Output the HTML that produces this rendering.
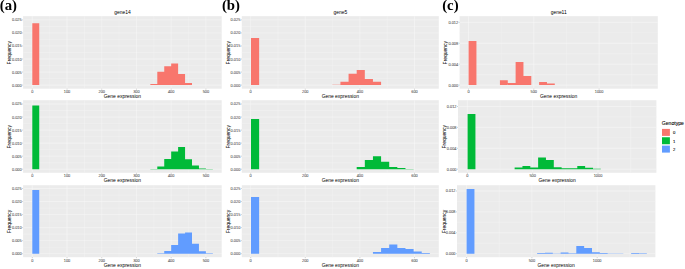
<!DOCTYPE html>
<html><head><meta charset="utf-8"><title>Gene expression histograms</title>
<style>html,body{margin:0;padding:0;background:#fff;}body{width:685px;height:269px;overflow:hidden;font-family:"Liberation Sans",sans-serif;}svg{display:block;}text{font-family:"Liberation Sans",sans-serif;}text.pl{font-family:"Liberation Serif",serif;font-weight:bold;}</style>
</head><body>
<svg width="685" height="269" viewBox="0 0 685 269">
<rect x="0" y="0" width="685" height="269" fill="#fff"/>
<rect x="23.1" y="16.15" width="198.6" height="72.55" fill="#EBEBEB"/>
<path d="M49.66 16.15V88.7M84.38 16.15V88.7M119.1 16.15V88.7M153.82 16.15V88.7M188.54 16.15V88.7M23.1 78.58H221.7M23.1 65.54H221.7M23.1 52.5H221.7M23.1 39.46H221.7M23.1 26.42H221.7" stroke="#F5F5F5" stroke-width="0.4" fill="none"/>
<path d="M32.3 16.15V88.7M67.02 16.15V88.7M101.74 16.15V88.7M136.46 16.15V88.7M171.18 16.15V88.7M205.9 16.15V88.7M23.1 85.1H221.7M23.1 72.06H221.7M23.1 59.02H221.7M23.1 45.98H221.7M23.1 32.94H221.7M23.1 19.9H221.7" stroke="#F8F8F8" stroke-width="0.5" fill="none"/>
<path d="M32.3 85.1H39.24V23.3H32.3ZM150.35 85.1H157.29V84H150.35ZM157.29 85.1H164.24V71.8H157.29ZM164.24 85.1H171.18V66.3H164.24ZM171.18 85.1H178.12V63.4H171.18ZM178.12 85.1H185.07V73.9H178.12ZM185.07 85.1H192.01V82.9H185.07Z" fill="#F8766D"/>
<path d="M32.3 88.7V89.7M67.02 88.7V89.7M101.74 88.7V89.7M136.46 88.7V89.7M171.18 88.7V89.7M205.9 88.7V89.7M22.1 85.1H23.1M22.1 72.06H23.1M22.1 59.02H23.1M22.1 45.98H23.1M22.1 32.94H23.1M22.1 19.9H23.1" stroke="#777" stroke-width="0.35" fill="none"/>
<rect x="23.1" y="100.2" width="198.6" height="72.6" fill="#EBEBEB"/>
<path d="M49.66 100.2V172.8M84.38 100.2V172.8M119.1 100.2V172.8M153.82 100.2V172.8M188.54 100.2V172.8M23.1 162.68H221.7M23.1 149.64H221.7M23.1 136.6H221.7M23.1 123.56H221.7M23.1 110.52H221.7" stroke="#F5F5F5" stroke-width="0.4" fill="none"/>
<path d="M32.3 100.2V172.8M67.02 100.2V172.8M101.74 100.2V172.8M136.46 100.2V172.8M171.18 100.2V172.8M205.9 100.2V172.8M23.1 169.2H221.7M23.1 156.16H221.7M23.1 143.12H221.7M23.1 130.08H221.7M23.1 117.04H221.7M23.1 104H221.7" stroke="#F8F8F8" stroke-width="0.5" fill="none"/>
<path d="M32.3 169.2H39.24V105.4H32.3ZM150.35 169.2H157.29V168.9H150.35ZM157.29 169.2H164.24V166.5H157.29ZM164.24 169.2H171.18V158.9H164.24ZM171.18 169.2H178.12V151.4H171.18ZM178.12 169.2H185.07V147H178.12ZM185.07 169.2H192.01V159.3H185.07ZM192.01 169.2H198.96V165.5H192.01ZM198.96 169.2H205.9V168.5H198.96ZM205.9 169.2H212.84V168.9H205.9Z" fill="#00BA38"/>
<path d="M32.3 172.8V173.8M67.02 172.8V173.8M101.74 172.8V173.8M136.46 172.8V173.8M171.18 172.8V173.8M205.9 172.8V173.8M22.1 169.2H23.1M22.1 156.16H23.1M22.1 143.12H23.1M22.1 130.08H23.1M22.1 117.04H23.1M22.1 104H23.1" stroke="#777" stroke-width="0.35" fill="none"/>
<rect x="23.1" y="185.2" width="198.6" height="72" fill="#EBEBEB"/>
<path d="M49.66 185.2V257.2M84.38 185.2V257.2M119.1 185.2V257.2M153.82 185.2V257.2M188.54 185.2V257.2M23.1 247.18H221.7M23.1 234.14H221.7M23.1 221.1H221.7M23.1 208.06H221.7M23.1 195.02H221.7" stroke="#F5F5F5" stroke-width="0.4" fill="none"/>
<path d="M32.3 185.2V257.2M67.02 185.2V257.2M101.74 185.2V257.2M136.46 185.2V257.2M171.18 185.2V257.2M205.9 185.2V257.2M23.1 253.7H221.7M23.1 240.66H221.7M23.1 227.62H221.7M23.1 214.58H221.7M23.1 201.54H221.7M23.1 188.5H221.7" stroke="#F8F8F8" stroke-width="0.5" fill="none"/>
<path d="M32.3 253.7H39.24V189.9H32.3ZM157.29 253.7H164.24V253.3H157.29ZM164.24 253.7H171.18V250.9H164.24ZM171.18 253.7H178.12V244.9H171.18ZM178.12 253.7H185.07V233.5H178.12ZM185.07 253.7H192.01V232.4H185.07ZM192.01 253.7H198.96V243.7H192.01ZM198.96 253.7H205.9V251.3H198.96ZM205.9 253.7H212.84V253.3H205.9Z" fill="#619CFF"/>
<path d="M32.3 257.2V258.2M67.02 257.2V258.2M101.74 257.2V258.2M136.46 257.2V258.2M171.18 257.2V258.2M205.9 257.2V258.2M22.1 253.7H23.1M22.1 240.66H23.1M22.1 227.62H23.1M22.1 214.58H23.1M22.1 201.54H23.1M22.1 188.5H23.1" stroke="#777" stroke-width="0.35" fill="none"/>
<rect x="241.8" y="16.15" width="197" height="72.55" fill="#EBEBEB"/>
<path d="M278 16.15V88.7M332.6 16.15V88.7M387.2 16.15V88.7M241.8 78.58H438.8M241.8 65.54H438.8M241.8 52.5H438.8M241.8 39.46H438.8M241.8 26.42H438.8" stroke="#F5F5F5" stroke-width="0.4" fill="none"/>
<path d="M250.7 16.15V88.7M305.3 16.15V88.7M359.9 16.15V88.7M414.5 16.15V88.7M241.8 85.1H438.8M241.8 72.06H438.8M241.8 59.02H438.8M241.8 45.98H438.8M241.8 32.94H438.8M241.8 19.9H438.8" stroke="#F8F8F8" stroke-width="0.5" fill="none"/>
<path d="M251 85.1H259.13V38.05H251ZM332.3 85.1H340.43V84.8H332.3ZM340.43 85.1H348.56V81.75H340.43ZM348.56 85.1H356.69V73.85H348.56ZM356.69 85.1H364.82V70H356.69ZM364.82 85.1H372.95V79.05H364.82ZM372.95 85.1H381.08V81.75H372.95Z" fill="#F8766D"/>
<path d="M250.7 88.7V89.7M305.3 88.7V89.7M359.9 88.7V89.7M414.5 88.7V89.7M240.8 85.1H241.8M240.8 72.06H241.8M240.8 59.02H241.8M240.8 45.98H241.8M240.8 32.94H241.8M240.8 19.9H241.8" stroke="#777" stroke-width="0.35" fill="none"/>
<rect x="241.8" y="100.2" width="197" height="72.6" fill="#EBEBEB"/>
<path d="M278 100.2V172.8M332.6 100.2V172.8M387.2 100.2V172.8M241.8 162.68H438.8M241.8 149.64H438.8M241.8 136.6H438.8M241.8 123.56H438.8M241.8 110.52H438.8" stroke="#F5F5F5" stroke-width="0.4" fill="none"/>
<path d="M250.7 100.2V172.8M305.3 100.2V172.8M359.9 100.2V172.8M414.5 100.2V172.8M241.8 169.2H438.8M241.8 156.16H438.8M241.8 143.12H438.8M241.8 130.08H438.8M241.8 117.04H438.8M241.8 104H438.8" stroke="#F8F8F8" stroke-width="0.5" fill="none"/>
<path d="M251 169.2H259.13V119.1H251ZM356.69 169.2H364.82V167H356.69ZM364.82 169.2H372.95V160H364.82ZM372.95 169.2H381.08V156.3H372.95ZM381.08 169.2H389.21V161.8H381.08ZM389.21 169.2H397.34V167H389.21ZM397.34 169.2H405.47V168H397.34ZM405.47 169.2H413.6V168.9H405.47Z" fill="#00BA38"/>
<path d="M250.7 172.8V173.8M305.3 172.8V173.8M359.9 172.8V173.8M414.5 172.8V173.8M240.8 169.2H241.8M240.8 156.16H241.8M240.8 143.12H241.8M240.8 130.08H241.8M240.8 117.04H241.8M240.8 104H241.8" stroke="#777" stroke-width="0.35" fill="none"/>
<rect x="241.8" y="185.2" width="197" height="72" fill="#EBEBEB"/>
<path d="M278 185.2V257.2M332.6 185.2V257.2M387.2 185.2V257.2M241.8 247.18H438.8M241.8 234.14H438.8M241.8 221.1H438.8M241.8 208.06H438.8M241.8 195.02H438.8" stroke="#F5F5F5" stroke-width="0.4" fill="none"/>
<path d="M250.7 185.2V257.2M305.3 185.2V257.2M359.9 185.2V257.2M414.5 185.2V257.2M241.8 253.7H438.8M241.8 240.66H438.8M241.8 227.62H438.8M241.8 214.58H438.8M241.8 201.54H438.8M241.8 188.5H438.8" stroke="#F8F8F8" stroke-width="0.5" fill="none"/>
<path d="M251 253.7H259.13V197H251ZM372.95 253.7H381.08V251.9H372.95ZM381.08 253.7H389.21V248.1H381.08ZM389.21 253.7H397.34V244.4H389.21ZM397.34 253.7H405.47V248.1H397.34ZM405.47 253.7H413.6V248.9H405.47ZM413.6 253.7H421.73V251.6H413.6ZM421.73 253.7H429.86V253H421.73Z" fill="#619CFF"/>
<path d="M250.7 257.2V258.2M305.3 257.2V258.2M359.9 257.2V258.2M414.5 257.2V258.2M240.8 253.7H241.8M240.8 240.66H241.8M240.8 227.62H241.8M240.8 214.58H241.8M240.8 201.54H241.8M240.8 188.5H241.8" stroke="#777" stroke-width="0.35" fill="none"/>
<rect x="459.6" y="16.15" width="198.2" height="72.55" fill="#EBEBEB"/>
<path d="M501.15 16.15V88.7M566.45 16.15V88.7M631.75 16.15V88.7M459.6 74.65H657.8M459.6 53.75H657.8M459.6 32.85H657.8" stroke="#F5F5F5" stroke-width="0.4" fill="none"/>
<path d="M468.5 16.15V88.7M533.8 16.15V88.7M599.1 16.15V88.7M459.6 85.1H657.8M459.6 64.2H657.8M459.6 43.3H657.8M459.6 22.4H657.8" stroke="#F8F8F8" stroke-width="0.5" fill="none"/>
<path d="M468.6 85.1H476.44V41.05H468.6ZM499.94 85.1H507.78V80.2H499.94ZM507.78 85.1H515.62V82.9H507.78ZM515.62 85.1H523.45V62.1H515.62ZM523.45 85.1H531.29V75.9H523.45ZM539.12 85.1H546.96V81.9H539.12ZM546.96 85.1H554.8V83.6H546.96Z" fill="#F8766D"/>
<path d="M468.5 88.7V89.7M533.8 88.7V89.7M599.1 88.7V89.7M458.6 85.1H459.6M458.6 64.2H459.6M458.6 43.3H459.6M458.6 22.4H459.6" stroke="#777" stroke-width="0.35" fill="none"/>
<rect x="458" y="100.2" width="198.4" height="72.6" fill="#EBEBEB"/>
<path d="M500.05 100.2V172.8M565.35 100.2V172.8M630.65 100.2V172.8M458 158.75H656.4M458 137.85H656.4M458 116.95H656.4" stroke="#F5F5F5" stroke-width="0.4" fill="none"/>
<path d="M467.4 100.2V172.8M532.7 100.2V172.8M598 100.2V172.8M458 169.2H656.4M458 148.3H656.4M458 127.4H656.4M458 106.5H656.4" stroke="#F8F8F8" stroke-width="0.5" fill="none"/>
<path d="M467.6 169.2H475.44V114H467.6ZM514.62 169.2H522.45V167.4H514.62ZM522.45 169.2H530.29V165.9H522.45ZM530.29 169.2H538.12V167.4H530.29ZM538.12 169.2H545.96V157.4H538.12ZM545.96 169.2H553.8V159.9H545.96ZM553.8 169.2H561.63V167.2H553.8ZM561.63 169.2H569.47V168.2H561.63ZM569.47 169.2H577.3V168.3H569.47ZM577.3 169.2H585.14V166H577.3ZM585.14 169.2H592.98V167.8H585.14ZM592.98 169.2H600.81V168.7H592.98Z" fill="#00BA38"/>
<path d="M467.4 172.8V173.8M532.7 172.8V173.8M598 172.8V173.8M457 169.2H458M457 148.3H458M457 127.4H458M457 106.5H458" stroke="#777" stroke-width="0.35" fill="none"/>
<rect x="457" y="185.2" width="198.4" height="72" fill="#EBEBEB"/>
<path d="M499.25 185.2V257.2M564.55 185.2V257.2M629.85 185.2V257.2M457 243.25H655.4M457 222.35H655.4M457 201.45H655.4" stroke="#F5F5F5" stroke-width="0.4" fill="none"/>
<path d="M466.6 185.2V257.2M531.9 185.2V257.2M597.2 185.2V257.2M457 253.7H655.4M457 232.8H655.4M457 211.9H655.4M457 191H655.4" stroke="#F8F8F8" stroke-width="0.5" fill="none"/>
<path d="M466.6 253.7H474.44V189H466.6ZM537.12 253.7H544.96V253.1H537.12ZM544.96 253.7H552.8V252.7H544.96ZM552.8 253.7H560.63V253.4H552.8ZM560.63 253.7H568.47V252.5H560.63ZM568.47 253.7H576.3V253.3H568.47ZM576.3 253.7H584.14V246.1H576.3ZM584.14 253.7H591.98V248H584.14ZM591.98 253.7H599.81V252.3H591.98ZM599.81 253.7H607.65V253.1H599.81ZM607.65 253.7H615.48V253.4H607.65ZM615.48 253.7H623.32V253.4H615.48ZM631.16 253.7H638.99V252.9H631.16ZM638.99 253.7H646.83V253.3H638.99Z" fill="#619CFF"/>
<path d="M466.6 257.2V258.2M531.9 257.2V258.2M597.2 257.2V258.2M456 253.7H457M456 232.8H457M456 211.9H457M456 191H457" stroke="#777" stroke-width="0.35" fill="none"/>
<g stroke-linejoin="round">
<g fill="#4D4D4D" stroke="#4D4D4D" stroke-width="0.05"><text x="32.3" y="93.1" font-size="3.9" text-anchor="middle">0</text><text x="67.02" y="93.1" font-size="3.9" text-anchor="middle">100</text><text x="101.74" y="93.1" font-size="3.9" text-anchor="middle">200</text><text x="136.46" y="93.1" font-size="3.9" text-anchor="middle">300</text><text x="171.18" y="93.1" font-size="3.9" text-anchor="middle">400</text><text x="205.9" y="93.1" font-size="3.9" text-anchor="middle">500</text><text x="21.65" y="86.9" font-size="3.9" text-anchor="end">0.000</text><text x="21.65" y="73.9" font-size="3.9" text-anchor="end">0.005</text><text x="21.65" y="60.9" font-size="3.9" text-anchor="end">0.010</text><text x="21.65" y="46.9" font-size="3.9" text-anchor="end">0.015</text><text x="21.65" y="33.9" font-size="3.9" text-anchor="end">0.020</text><text x="21.65" y="20.9" font-size="3.9" text-anchor="end">0.025</text><text x="32.3" y="177.1" font-size="3.9" text-anchor="middle">0</text><text x="67.02" y="177.1" font-size="3.9" text-anchor="middle">100</text><text x="101.74" y="177.1" font-size="3.9" text-anchor="middle">200</text><text x="136.46" y="177.1" font-size="3.9" text-anchor="middle">300</text><text x="171.18" y="177.1" font-size="3.9" text-anchor="middle">400</text><text x="205.9" y="177.1" font-size="3.9" text-anchor="middle">500</text><text x="21.65" y="170.9" font-size="3.9" text-anchor="end">0.000</text><text x="21.65" y="157.9" font-size="3.9" text-anchor="end">0.005</text><text x="21.65" y="144.9" font-size="3.9" text-anchor="end">0.010</text><text x="21.65" y="131.9" font-size="3.9" text-anchor="end">0.015</text><text x="21.65" y="118.9" font-size="3.9" text-anchor="end">0.020</text><text x="21.65" y="104.9" font-size="3.9" text-anchor="end">0.025</text><text x="32.3" y="261.5" font-size="3.9" text-anchor="middle">0</text><text x="67.02" y="261.5" font-size="3.9" text-anchor="middle">100</text><text x="101.74" y="261.5" font-size="3.9" text-anchor="middle">200</text><text x="136.46" y="261.5" font-size="3.9" text-anchor="middle">300</text><text x="171.18" y="261.5" font-size="3.9" text-anchor="middle">400</text><text x="205.9" y="261.5" font-size="3.9" text-anchor="middle">500</text><text x="21.65" y="254.9" font-size="3.9" text-anchor="end">0.000</text><text x="21.65" y="241.9" font-size="3.9" text-anchor="end">0.005</text><text x="21.65" y="228.9" font-size="3.9" text-anchor="end">0.010</text><text x="21.65" y="215.9" font-size="3.9" text-anchor="end">0.015</text><text x="21.65" y="202.9" font-size="3.9" text-anchor="end">0.020</text><text x="21.65" y="189.9" font-size="3.9" text-anchor="end">0.025</text><text x="250.7" y="93.1" font-size="3.9" text-anchor="middle">0</text><text x="305.3" y="93.1" font-size="3.9" text-anchor="middle">200</text><text x="359.9" y="93.1" font-size="3.9" text-anchor="middle">400</text><text x="414.5" y="93.1" font-size="3.9" text-anchor="middle">600</text><text x="240.35" y="86.9" font-size="3.9" text-anchor="end">0.000</text><text x="240.35" y="73.9" font-size="3.9" text-anchor="end">0.005</text><text x="240.35" y="60.9" font-size="3.9" text-anchor="end">0.010</text><text x="240.35" y="46.9" font-size="3.9" text-anchor="end">0.015</text><text x="240.35" y="33.9" font-size="3.9" text-anchor="end">0.020</text><text x="240.35" y="20.9" font-size="3.9" text-anchor="end">0.025</text><text x="250.7" y="177.1" font-size="3.9" text-anchor="middle">0</text><text x="305.3" y="177.1" font-size="3.9" text-anchor="middle">200</text><text x="359.9" y="177.1" font-size="3.9" text-anchor="middle">400</text><text x="414.5" y="177.1" font-size="3.9" text-anchor="middle">600</text><text x="240.35" y="170.9" font-size="3.9" text-anchor="end">0.000</text><text x="240.35" y="157.9" font-size="3.9" text-anchor="end">0.005</text><text x="240.35" y="144.9" font-size="3.9" text-anchor="end">0.010</text><text x="240.35" y="131.9" font-size="3.9" text-anchor="end">0.015</text><text x="240.35" y="118.9" font-size="3.9" text-anchor="end">0.020</text><text x="240.35" y="104.9" font-size="3.9" text-anchor="end">0.025</text><text x="250.7" y="261.5" font-size="3.9" text-anchor="middle">0</text><text x="305.3" y="261.5" font-size="3.9" text-anchor="middle">200</text><text x="359.9" y="261.5" font-size="3.9" text-anchor="middle">400</text><text x="414.5" y="261.5" font-size="3.9" text-anchor="middle">600</text><text x="240.35" y="254.9" font-size="3.9" text-anchor="end">0.000</text><text x="240.35" y="241.9" font-size="3.9" text-anchor="end">0.005</text><text x="240.35" y="228.9" font-size="3.9" text-anchor="end">0.010</text><text x="240.35" y="215.9" font-size="3.9" text-anchor="end">0.015</text><text x="240.35" y="202.9" font-size="3.9" text-anchor="end">0.020</text><text x="240.35" y="189.9" font-size="3.9" text-anchor="end">0.025</text><text x="468.5" y="93.1" font-size="3.9" text-anchor="middle">0</text><text x="533.8" y="93.1" font-size="3.9" text-anchor="middle">500</text><text x="599.1" y="93.1" font-size="3.9" text-anchor="middle">1000</text><text x="458.15" y="86.9" font-size="3.9" text-anchor="end">0.000</text><text x="458.15" y="65.9" font-size="3.9" text-anchor="end">0.004</text><text x="458.15" y="44.9" font-size="3.9" text-anchor="end">0.008</text><text x="458.15" y="23.9" font-size="3.9" text-anchor="end">0.012</text><text x="467.4" y="177.1" font-size="3.9" text-anchor="middle">0</text><text x="532.7" y="177.1" font-size="3.9" text-anchor="middle">500</text><text x="598" y="177.1" font-size="3.9" text-anchor="middle">1000</text><text x="456.55" y="170.9" font-size="3.9" text-anchor="end">0.000</text><text x="456.55" y="149.9" font-size="3.9" text-anchor="end">0.004</text><text x="456.55" y="128.9" font-size="3.9" text-anchor="end">0.008</text><text x="456.55" y="107.9" font-size="3.9" text-anchor="end">0.012</text><text x="466.6" y="261.5" font-size="3.9" text-anchor="middle">0</text><text x="531.9" y="261.5" font-size="3.9" text-anchor="middle">500</text><text x="597.2" y="261.5" font-size="3.9" text-anchor="middle">1000</text><text x="455.55" y="254.9" font-size="3.9" text-anchor="end">0.000</text><text x="455.55" y="233.9" font-size="3.9" text-anchor="end">0.004</text><text x="455.55" y="212.9" font-size="3.9" text-anchor="end">0.008</text><text x="455.55" y="191.9" font-size="3.9" text-anchor="end">0.012</text></g>
<g fill="#000000" stroke="#000000" stroke-width="0"><text x="122.4" y="98" font-size="4.95" text-anchor="middle">Gene expression</text><text x="0" y="0" font-size="4.95" text-anchor="middle" stroke="#000" stroke-width="0.06" transform="translate(11 52.72) rotate(-90)">Frequency</text><text x="122.4" y="182" font-size="4.95" text-anchor="middle">Gene expression</text><text x="0" y="0" font-size="4.95" text-anchor="middle" stroke="#000" stroke-width="0.06" transform="translate(11 136.8) rotate(-90)">Frequency</text><text x="122.4" y="267" font-size="4.95" text-anchor="middle">Gene expression</text><text x="0" y="0" font-size="4.95" text-anchor="middle" stroke="#000" stroke-width="0.06" transform="translate(11 221.5) rotate(-90)">Frequency</text><text x="122.4" y="14.35" font-size="4.95" text-anchor="middle">gene14</text><text x="340.3" y="98" font-size="4.95" text-anchor="middle">Gene expression</text><text x="0" y="0" font-size="4.95" text-anchor="middle" stroke="#000" stroke-width="0.06" transform="translate(230.2 52.72) rotate(-90)">Frequency</text><text x="340.3" y="182" font-size="4.95" text-anchor="middle">Gene expression</text><text x="0" y="0" font-size="4.95" text-anchor="middle" stroke="#000" stroke-width="0.06" transform="translate(230.2 136.8) rotate(-90)">Frequency</text><text x="340.3" y="267" font-size="4.95" text-anchor="middle">Gene expression</text><text x="0" y="0" font-size="4.95" text-anchor="middle" stroke="#000" stroke-width="0.06" transform="translate(230.2 221.5) rotate(-90)">Frequency</text><text x="340.3" y="14.35" font-size="4.95" text-anchor="middle">gene5</text><text x="558.7" y="98" font-size="4.95" text-anchor="middle">Gene expression</text><text x="0" y="0" font-size="4.95" text-anchor="middle" stroke="#000" stroke-width="0.06" transform="translate(447 52.72) rotate(-90)">Frequency</text><text x="557.2" y="182" font-size="4.95" text-anchor="middle">Gene expression</text><text x="0" y="0" font-size="4.95" text-anchor="middle" stroke="#000" stroke-width="0.06" transform="translate(445.8 136.8) rotate(-90)">Frequency</text><text x="556.2" y="267" font-size="4.95" text-anchor="middle">Gene expression</text><text x="0" y="0" font-size="4.95" text-anchor="middle" stroke="#000" stroke-width="0.06" transform="translate(445.5 221.5) rotate(-90)">Frequency</text><text x="558.7" y="14.35" font-size="4.95" text-anchor="middle">gene11</text></g>
<filter id="gs" x="0" y="0" width="685" height="269" filterUnits="userSpaceOnUse"><feOffset dx="0" dy="0"/></filter>
<g fill="#000" filter="url(#gs)"><text x="-0.25" y="10" font-size="14.75" class="pl">(a)</text><text x="221.9" y="10" font-size="14.75" class="pl">(b)</text><text x="442.2" y="10" font-size="14.75" class="pl">(c)</text></g>
<rect x="662" y="128.9" width="7.9" height="7.0" fill="#F8766D"/>
<rect x="662" y="137.25" width="7.9" height="7.0" fill="#00BA38"/>
<rect x="662" y="145.6" width="7.9" height="7.0" fill="#619CFF"/>
<g fill="#000" stroke="#000" stroke-width="0.08"><text x="661.8" y="125.4" font-size="5.1">Genotype</text><text x="672.9" y="134.15" font-size="4.2">0</text><text x="672.9" y="142.5" font-size="4.2">1</text><text x="672.9" y="150.85" font-size="4.2">2</text></g>
</g>

</svg>
</body></html>
